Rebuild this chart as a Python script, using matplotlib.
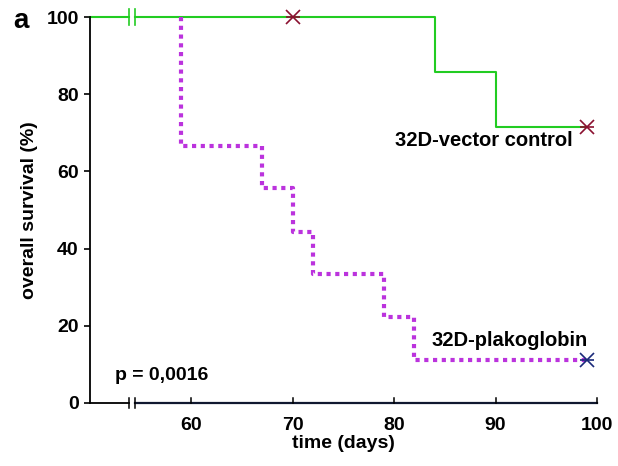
import matplotlib.pyplot as plt

plt.rcParams["font.family"] = ["Liberation Sans", "DejaVu Sans"]
plt.rcParams["font.weight"] = "bold"

# survival step data (time in days, survival %)
ctrl_t = [50, 84, 84, 90, 90, 99]
ctrl_s = [100, 100, 85.7, 85.7, 71.4, 71.4]
plako_t = [59, 59, 67, 67, 70, 70, 72, 72, 79, 79, 82, 82, 99]
plako_s = [100, 66.7, 66.7, 55.6, 55.6, 44.4, 44.4, 33.3, 33.3, 22.2, 22.2, 11.1, 11.1]
cens_ctrl_t = [70, 99]
cens_ctrl_s = [100, 71.4]
cens_plako_t = [99]
cens_plako_s = [11.1]
xticks = [60, 70, 80, 90, 100]
yticks = [0, 20, 40, 60, 80, 100]

GREEN = "#22cc22"
PURPLE = "#bb33dd"
BREAK = (53.8, 54.4)

fig = plt.figure(figsize=(6.18, 4.66), dpi=100, facecolor="white")
ax = fig.add_axes([0.1456, 0.1352, 0.8204, 0.8283])
ax.set_xlim(50, 100)
ax.set_ylim(0, 100)

# control curve with axis break
ax.plot([50, BREAK[0]], [100, 100], color=GREEN, lw=1.5, clip_on=False)
ax.plot([BREAK[1]] + ctrl_t[1:], [100] + ctrl_s[1:], color=GREEN, lw=1.5, clip_on=False)
for b in BREAK:
    ax.plot([b, b], [98, 102], color=GREEN, lw=1.2, clip_on=False)

ax.plot(plako_t, plako_s, color=PURPLE, lw=3.0, ls=(0, (1, 1.1)), clip_on=False,
        dash_capstyle="butt")

for mk in ("x", "_"):
    ax.plot(cens_ctrl_t, cens_ctrl_s, ls="none", marker=mk, ms=10, mew=1.2,
            color="#8b1030", clip_on=False, zorder=5)
    ax.plot(cens_plako_t, cens_plako_s, ls="none", marker=mk, ms=10, mew=1.2,
            color="#1a2a7a", clip_on=False, zorder=5)

# x axis drawn manually with break
for s in ("top", "right", "bottom"):
    ax.spines[s].set_visible(False)
ax.spines["left"].set_linewidth(1.3)
ax.plot([50, BREAK[0]], [0, 0], color="black", lw=1.3, clip_on=False)
ax.plot([BREAK[1], 100], [0, 0], color="#101830", lw=1.6, clip_on=False)
for b in BREAK:
    ax.plot([b, b], [-1.2, 1.2], color="black", lw=1.1, clip_on=False)
for t in xticks:
    ax.plot([t, t], [0, 1.2], color="black", lw=1.1, clip_on=False)

ax.set_xticks(xticks)
ax.tick_params(axis="x", length=0, pad=10, labelsize=14)
ax.set_yticks(yticks)
ax.tick_params(axis="y", direction="out", length=4, width=1.2, labelsize=14, pad=4)
for lab in ax.get_xticklabels() + ax.get_yticklabels():
    lab.set_fontweight("bold")

ax.set_xlabel("time (days)", fontsize=14, fontweight="bold", labelpad=1)
ax.set_ylabel("overall survival (%)", fontsize=14, fontweight="bold", labelpad=6)

ax.text(88.8, 68.0, "32D-vector control", ha="center", va="center",
        fontsize=14.5, fontweight="bold")
ax.text(83.7, 16.2, "32D-plakoglobin", ha="left", va="center",
        fontsize=14.5, fontweight="bold")
ax.text(52.5, 7.2, "p = 0,0016", ha="left", va="center",
        fontsize=14, fontweight="bold")
fig.text(0.022, 0.955, "a", ha="left", va="center", fontsize=20, fontweight="bold")

fig.savefig("out.png", dpi=100, facecolor="white")
